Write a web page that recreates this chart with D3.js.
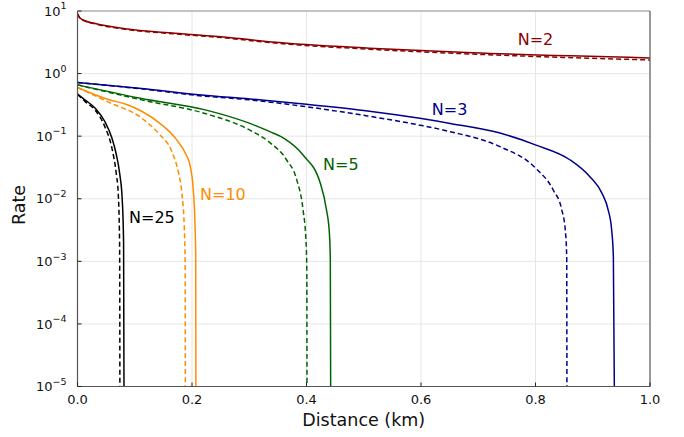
<!DOCTYPE html>
<html>
<head>
<meta charset="utf-8">
<script src="https://cdn.jsdelivr.net/npm/d3@7"></script>
<style>
    body { margin: 0; background: #fff; }
    text { font-family: "DejaVu Sans", sans-serif; }
    .tickLabel { font-size: 13px; fill: #111; }
    .axisTitle { font-size: 17.5px; fill: #111; }
    .curveLabel { font-size: 16px; }
</style>
</head>
<body>
<div id="chart"></div>
<script>

// series: distance (km) and rate, solid = one model, dashed = the other
let distN2 = [0, 0.0044, 0.013, 0.031, 0.083, 0.17, 0.26, 0.34, 0.51, 0.69, 1.0];
let rateN2 = [9.0, 7.7, 7.0, 6.3, 5.2, 4.4, 3.8, 3.2, 2.55, 2.15, 1.78];
let rateN2Dashed = [9.0, 7.6, 6.9, 6.2, 5.1, 4.3, 3.7, 3.1, 2.45, 2.05, 1.65];

let distN3 = [0, 0.112, 0.217, 0.301, 0.40, 0.50, 0.598, 0.651, 0.738, 0.801, 0.860, 0.895, 0.916, 0.927, 0.933, 0.936, 0.9385];
let rateN3 = [0.72, 0.58, 0.455, 0.393, 0.324, 0.258, 0.193, 0.16, 0.112, 0.072, 0.042, 0.0225, 0.0123, 0.0066, 0.0032, 0.0012, 1e-6];
let distN3Dashed = [0, 0.112, 0.217, 0.301, 0.40, 0.50, 0.598, 0.651, 0.738, 0.80, 0.831, 0.846, 0.852, 0.8545, 0.855];
let rateN3Dashed = [0.72, 0.57, 0.44, 0.38, 0.295, 0.215, 0.15, 0.118, 0.068, 0.031, 0.0138, 0.0066, 0.0032, 0.0012, 1e-6];

let distN5 = [0, 0.112, 0.223, 0.301, 0.336, 0.36, 0.394, 0.424, 0.435, 0.44, 0.4416, 0.4425];
let rateN5 = [0.66, 0.40, 0.263, 0.16, 0.118, 0.093, 0.05, 0.0178, 0.0066, 0.0028, 0.00105, 1e-6];
let distN5Dashed = [0, 0.112, 0.223, 0.301, 0.336, 0.365, 0.383, 0.394, 0.399, 0.4005, 0.401];
let rateN5Dashed = [0.66, 0.38, 0.23, 0.125, 0.079, 0.042, 0.020, 0.0066, 0.0022, 0.0008, 1e-6];

let distN10 = [0, 0.054, 0.086, 0.112, 0.144, 0.173, 0.19, 0.197, 0.202, 0.205, 0.2065, 0.207];
let rateN10 = [0.60, 0.385, 0.32, 0.25, 0.16, 0.088, 0.05, 0.033, 0.0148, 0.0046, 0.0012, 1e-6];
let distN10Dashed = [0, 0.054, 0.112, 0.141, 0.165, 0.176, 0.182, 0.1865, 0.188, 0.1885];
let rateN10Dashed = [0.60, 0.35, 0.195, 0.112, 0.056, 0.027, 0.0129, 0.0035, 0.001, 1e-6];

let distN25 = [0, 0.013, 0.031, 0.048, 0.06, 0.068, 0.074, 0.078, 0.0805, 0.0815];
let rateN25 = [0.47, 0.38, 0.28, 0.17, 0.094, 0.05, 0.024, 0.0102, 0.002, 1e-6];
let distN25Dashed = [0, 0.013, 0.031, 0.048, 0.06, 0.068, 0.071, 0.0735, 0.0742];
let rateN25Dashed = [0.47, 0.36, 0.26, 0.14, 0.065, 0.024, 0.0129, 0.002, 1e-6];

let seriesNames = ['N=2', 'N=3', 'N=5', 'N=10', 'N=25'];
let seriesColors = ['#8b0000', '#00008b', '#006400', '#ff8c00', '#000000'];
// where each N= label sits, in data units
let labelDist = [0.80, 0.65, 0.46, 0.254, 0.130];
let labelRate = [3.5, 0.27, 0.035, 0.012, 0.005];

let xTicks = [0, 0.2, 0.4, 0.6, 0.8, 1.0];
let yExponents = [1, 0, -1, -2, -3, -4, -5];

class rateChart {

    constructor(_parentElement) {
        this.parentElement = _parentElement;
        this.margin = { top: 11, right: 34, bottom: 50.5, left: 77.5 };
        this.width = 684 - this.margin.left - this.margin.right;
        this.height = 437 - this.margin.top - this.margin.bottom;

        this.wrangleData();
    }

    wrangleData() {
        let vis = this;
        let pairs = (xs, ys) => xs.map((x, i) => ({ x: x, y: ys[i] }));

        vis.curves = [
            { color: 0, dashed: false, values: pairs(distN2, rateN2) },
            { color: 0, dashed: true, values: pairs(distN2, rateN2Dashed) },
            { color: 1, dashed: false, values: pairs(distN3, rateN3) },
            { color: 1, dashed: true, values: pairs(distN3Dashed, rateN3Dashed) },
            { color: 2, dashed: false, values: pairs(distN5, rateN5) },
            { color: 2, dashed: true, values: pairs(distN5Dashed, rateN5Dashed) },
            { color: 3, dashed: false, values: pairs(distN10, rateN10) },
            { color: 3, dashed: true, values: pairs(distN10Dashed, rateN10Dashed) },
            { color: 4, dashed: false, values: pairs(distN25, rateN25) },
            { color: 4, dashed: true, values: pairs(distN25Dashed, rateN25Dashed) }
        ];

        vis.labels = seriesNames.map((name, i) => ({ name: name, x: labelDist[i], y: labelRate[i], color: seriesColors[i] }));

        vis.initVis();
    }

    initVis() {
        let vis = this;

        vis.svg = d3.select("#" + vis.parentElement).append("svg")
            .attr("width", 684)
            .attr("height", 437);

        vis.g = vis.svg.append("g")
            .attr("transform", "translate(" + vis.margin.left + "," + vis.margin.top + ")");

        vis.x = d3.scaleLinear().domain([0, 1]).range([0, vis.width]);
        vis.y = d3.scaleLog().domain([1e-5, 10]).range([vis.height, 0]);

        vis.svg.append("defs").append("clipPath")
            .attr("id", "plotClip")
            .append("rect")
            .attr("width", vis.width)
            .attr("height", vis.height);

        vis.drawGrid();
        vis.drawCurves();
        vis.drawAxes();
    }

    drawGrid() {
        let vis = this;

        vis.g.append("g").selectAll("line.vgrid")
            .data(xTicks.slice(1, -1))
            .enter().append("line")
            .attr("x1", d => vis.x(d)).attr("x2", d => vis.x(d))
            .attr("y1", 0).attr("y2", vis.height)
            .style("stroke", "#e6e6e6").style("stroke-width", 1);

        vis.g.append("g").selectAll("line.hgrid")
            .data(yExponents.slice(1, -1))
            .enter().append("line")
            .attr("x1", 0).attr("x2", vis.width)
            .attr("y1", d => vis.y(Math.pow(10, d))).attr("y2", d => vis.y(Math.pow(10, d)))
            .style("stroke", "#e6e6e6").style("stroke-width", 1);
    }

    drawCurves() {
        let vis = this;

        let line = d3.line()
            .x(d => vis.x(d.x))
            .y(d => vis.y(d.y))
            .curve(d3.curveMonotoneX);

        vis.g.append("g")
            .attr("clip-path", "url(#plotClip)")
            .selectAll("path")
            .data(vis.curves)
            .enter().append("path")
            .attr("d", d => line(d.values))
            .style("fill", "none")
            .style("stroke", d => seriesColors[d.color])
            .style("stroke-width", 1.5)
            .style("stroke-dasharray", d => d.dashed ? "5,3" : null);

        vis.g.append("g").selectAll("text")
            .data(vis.labels)
            .enter().append("text")
            .attr("class", "curveLabel")
            .attr("x", d => vis.x(d.x))
            .attr("y", d => vis.y(d.y))
            .attr("dy", "0.36em")
            .attr("text-anchor", "middle")
            .style("fill", d => d.color)
            .text(d => d.name);
    }

    drawAxes() {
        let vis = this;

        // frame: light top, dark on the other sides
        vis.g.append("line")
            .attr("x1", 0).attr("x2", vis.width).attr("y1", 0).attr("y2", 0)
            .style("stroke", "#b0b0b0").style("stroke-width", 1.6);
        vis.g.append("line")
            .attr("x1", vis.width).attr("x2", vis.width).attr("y1", 0).attr("y2", vis.height)
            .style("stroke", "#555").style("stroke-width", 1.2);
        vis.g.append("line")
            .attr("x1", 0).attr("x2", vis.width).attr("y1", vis.height).attr("y2", vis.height)
            .style("stroke", "#555").style("stroke-width", 1.2);
        vis.g.append("line")
            .attr("x1", 0).attr("x2", 0).attr("y1", 0).attr("y2", vis.height)
            .style("stroke", "#555").style("stroke-width", 1.2);

        // x ticks point inward
        let xt = vis.g.append("g").selectAll("g")
            .data(xTicks)
            .enter().append("g")
            .attr("transform", d => "translate(" + vis.x(d) + "," + vis.height + ")");
        xt.append("line").attr("y1", 0).attr("y2", -4)
            .style("stroke", "#222").style("stroke-width", 1);
        xt.append("text")
            .attr("class", "tickLabel")
            .attr("y", 17.5)
            .attr("text-anchor", "middle")
            .text(d => d3.format(".1f")(d));

        let yt = vis.g.append("g").selectAll("g")
            .data(yExponents)
            .enter().append("g")
            .attr("transform", d => "translate(0," + vis.y(Math.pow(10, d)) + ")");
        yt.append("line").attr("x1", 0).attr("x2", 4)
            .style("stroke", "#222").style("stroke-width", 1);
        let yl = yt.append("text")
            .attr("class", "tickLabel")
            .attr("x", -11)
            .attr("y", 4.7)
            .attr("text-anchor", "end");
        yl.append("tspan").text("10");
        yl.append("tspan")
            .attr("dy", -6.5)
            .style("font-size", "9.5px")
            .text(d => String(d).replace("-", "\u2212"));

        vis.svg.append("text")
            .attr("class", "axisTitle")
            .attr("x", vis.margin.left + vis.width / 2)
            .attr("y", 426)
            .attr("text-anchor", "middle")
            .text("Distance (km)");

        vis.svg.append("text")
            .attr("class", "axisTitle")
            .attr("transform", "translate(25,205) rotate(-90)")
            .attr("text-anchor", "middle")
            .text("Rate");
    }
}

new rateChart("chart");

</script>
</body>
</html>
